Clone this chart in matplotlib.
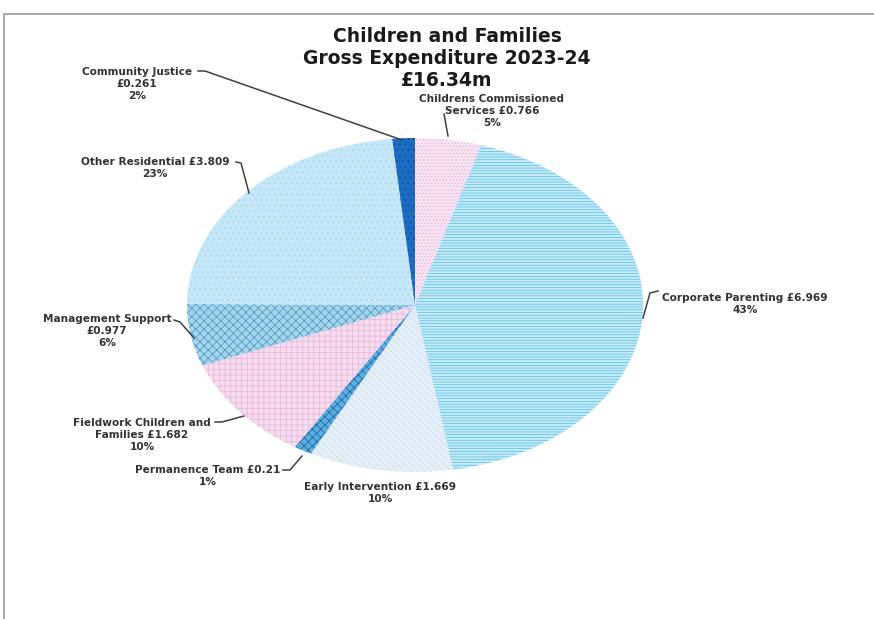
import matplotlib
matplotlib.use("Agg")
import matplotlib.pyplot as plt
from matplotlib.lines import Line2D

plt.rcParams['hatch.linewidth'] = 0.5

# ---- data ----
categories = ["Childrens Commissioned Services", "Corporate Parenting", "Early Intervention",
              "Permanence Team", "Fieldwork Children and Families", "Management Support",
              "Other Residential", "Community Justice"]
values = [0.766, 6.969, 1.669, 0.21, 1.682, 0.977, 3.809, 0.261]
percents = ["5%", "43%", "10%", "1%", "10%", "6%", "23%", "2%"]
label_texts = [
    "Childrens Commissioned\nServices £0.766\n5%",
    "Corporate Parenting £6.969\n43%",
    "Early Intervention £1.669\n10%",
    "Permanence Team £0.21\n1%",
    "Fieldwork Children and\nFamilies £1.682\n10%",
    "Management Support\n£0.977\n6%",
    "Other Residential £3.809\n23%",
    "Community Justice\n£0.261\n2%",
]
title_lines = "Children and Families\nGross Expenditure 2023-24\n£16.34m"

# ---- styles ----
faces = ['#f7e4f3', '#c6eaf8', '#e4eff8', '#5aaee0', '#f5dcef', '#a3d5ec', '#c5e8f8', '#1b6cc2']
hatch_cols = ['#e7b2df', '#4fbde6', '#c8dcee', '#1d5f9e', '#e6b4dc', '#4c8fbf', '#a8d2e8', '#0f4f96']
hatches = ['.....', '------', '\\\\\\\\\\', 'xxxx', '+++', 'xxxx', '...', '...']

W, H = 874, 619
fig = plt.figure(figsize=(W / 100, H / 100), dpi=100)

def fx(x):
    return x / W

def fy(y):
    return 1 - y / H

# pie axes (ellipse region)
ax = fig.add_axes([fx(187), fy(472), (643 - 187) / W, (472 - 138) / H])
wedges, _ = ax.pie(values, startangle=90, counterclock=False, radius=1,
                   wedgeprops=dict(linewidth=0))
for w, fc, hc, h in zip(wedges, faces, hatch_cols, hatches):
    w.set_facecolor(fc)
    w.set_edgecolor(hc)
    w.set_hatch(h)
    w.set_linewidth(0)
ax.set_xlim(-1, 1)
ax.set_ylim(-1, 1)
ax.set_aspect('auto')
ax.axis('off')

# title
fig.text(fx(447), fy(59), title_lines, ha='center', va='center', fontsize=13.5,
         fontweight='bold', color='#1a1a1a', linespacing=1.2)

# labels (positions in pixels)
label_pos = [(492, 111), (745, 304), (380, 493), (208, 476), (142, 435),
             (107, 331), (155, 168), (137, 84)]
for (x, y), t in zip(label_pos, label_texts):
    fig.text(fx(x), fy(y), t, ha='center', va='center', fontsize=7.6,
             fontweight='bold', color='#333333', linespacing=1.25)

# leader lines (pixel coordinates)
leaders = [
    [(444, 114), (448, 136)],
    [(658, 291), (650, 293), (643, 318)],
    [(283, 470), (290, 470), (302, 456)],
    [(215, 422), (222, 422), (244, 416)],
    [(174, 320), (180, 322), (194, 338)],
    [(236, 162), (241, 163), (249, 193)],
    [(198, 71), (205, 71), (402, 140)],
]
for pts in leaders:
    xs = [fx(p[0]) for p in pts]
    ys = [fy(p[1]) for p in pts]
    fig.add_artist(Line2D(xs, ys, transform=fig.transFigure, color='#404040', lw=1.1))

# chart border
fig.add_artist(Line2D([fx(4), fx(4), fx(874)], [fy(619), fy(14), fy(14)],
                      transform=fig.transFigure, color='#9a9a9a', lw=1.2))

fig.savefig("out.png", dpi=100)
